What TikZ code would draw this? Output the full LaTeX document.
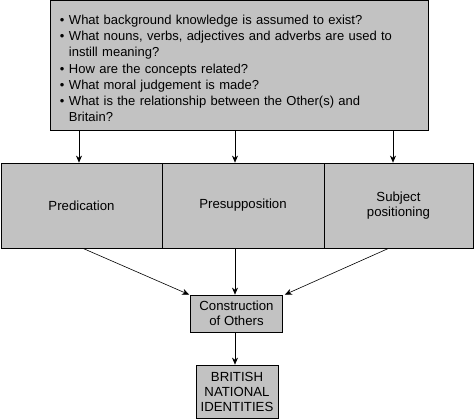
\documentclass[tikz,border=0pt]{standalone}
\usepackage{fontspec}
\setmainfont{Liberation Sans}
\usepackage{enumitem}
\usetikzlibrary{arrows.meta}
\begin{document}
\begin{tikzpicture}[x=1pt,y=-1pt,line cap=butt,line join=miter,>={Stealth[length=7pt,width=6pt]},
	font=\fontsize{13.2}{15}\selectfont]
	\tikzset{box/.style={draw,line width=0.8pt,fill=boxgray,inner sep=0pt,align=center},
		link/.style={line width=0.6pt}
	}
	\definecolor{boxgray}{gray}{0.76}
	\useasboundingbox (0,0) rectangle (474,419);
	% question box
	\node[box,minimum width=378,minimum height=130,text width=366,align=left,
		font=\fontsize{13}{16.2}\selectfont] (quest) at (239,65)
	{\begin{itemize}[leftmargin=13pt,rightmargin=18pt,labelsep=4.5pt,label=\textbullet,
				itemsep=0pt,parsep=0pt,topsep=0pt,partopsep=0pt]
			\item What background knowledge is assumed to exist?
			\item What nouns, verbs, adjectives and adverbs are used to instill meaning?
			\item How are the concepts related?
			\item What moral judgement is made?
			\item What is the relationship between the Other(s) and Britain?
	\end{itemize}\par\vspace*{6pt}};
	% three strategies
	\node[box,minimum width=161,minimum height=85] (pred) at (81.5,205.5) {Predication};
	\node[box,minimum width=162,minimum height=85] (presup) at (243,205.5) {Presupposition};
	\node[box,minimum width=149,minimum height=85] (subj) at (398.5,205.5) {Subject\\positioning};
	% outcome
	\node[box,minimum width=92,minimum height=37] (constr) at (236.5,313.5) {Construction\\of Others};
	\node[box,minimum width=82,minimum height=53] (brit) at (237,391.5) {BRITISH\\NATIONAL\\IDENTITIES};
	\coordinate (a1) at (79,0);
	\coordinate (a2) at (235,0);
	\coordinate (a3) at (393,0);
	\foreach \a/\t in {a1/pred,a2/presup,a3/subj}
	\draw[link,->] (quest.south -| \a) -- (\t.north -| \a);
	\draw[link,->] ([xshift=1.5pt]pred.south) -- ([xshift=-1pt]constr.north west);
	\draw[link,->] (presup.south -| a2) -- (constr.north -| a2);
	\draw[link,->] ([xshift=-10pt]subj.south) -- ([xshift=2pt]constr.north east);
	\draw[link,->] (constr.south -| a2) -- (brit.north -| a2);
\end{tikzpicture}
\end{document}
